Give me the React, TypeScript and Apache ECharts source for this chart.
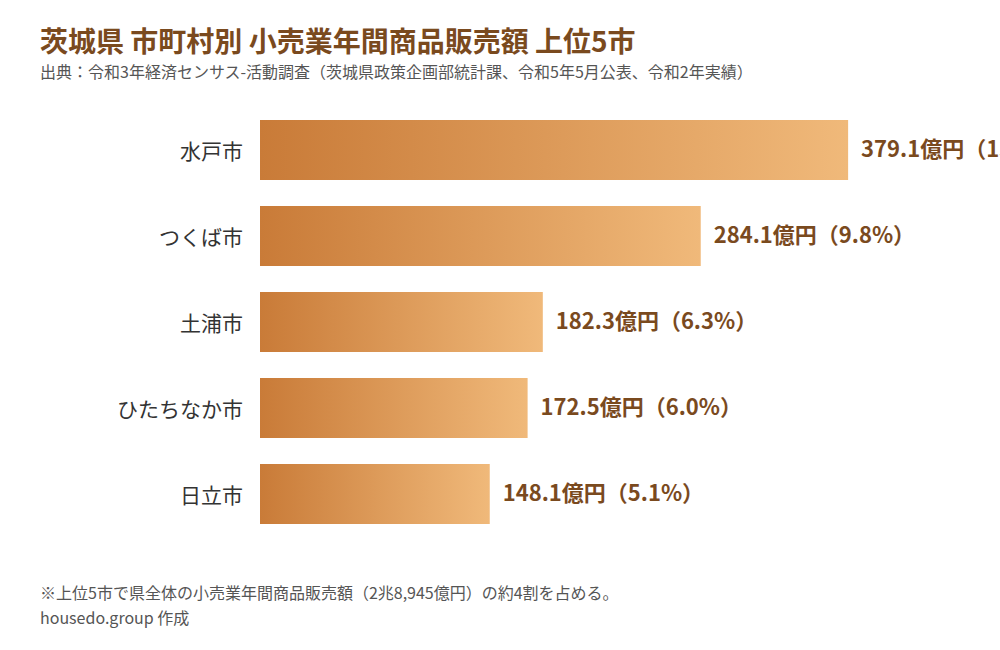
import { useEffect, useRef } from "react";
import * as echarts from "echarts";

const cities = ["水戸市", "つくば市", "土浦市", "ひたちなか市", "日立市"];
const sales = [379.1, 284.1, 182.3, 172.5, 148.1];
const shares = [13.1, 9.8, 6.3, 6.0, 5.1];

const titleText = "茨城県 市町村別 小売業年間商品販売額 上位5市";
const subText =
  "出典：令和3年経済センサス-活動調査（茨城県政策企画部統計課、令和5年5月公表、令和2年実績）";
const noteText = "※上位5市で県全体の小売業年間商品販売額（2兆8,945億円）の約4割を占める。";
const creditText = "housedo.group 作成";

const FONT = '"Noto Sans CJK JP", "Noto Sans", sans-serif';

const App = () => {
  const chartRef = useRef<HTMLDivElement>(null);

  useEffect(() => {
    if (!chartRef.current) return;
    document.body.style.margin = "0";

    const chart = echarts.init(chartRef.current, null, { renderer: "svg" });

    const option = {
      animation: false,
      backgroundColor: "#ffffff",
      textStyle: { fontFamily: FONT },
      title: [
        {
          text: titleText,
          left: 40,
          top: 26,
          padding: 0,
          textStyle: {
            fontFamily: FONT,
            fontSize: 28,
            fontWeight: "bold",
            color: "#7a4a1e",
          },
        },
        {
          text: subText,
          left: 40,
          top: 63,
          padding: 0,
          textStyle: {
            fontFamily: FONT,
            fontSize: 16,
            fontWeight: "normal",
            color: "#555555",
          },
        },
      ],
      graphic: [
        {
          type: "text",
          left: 40,
          top: 584,
          style: { text: noteText, font: `16px ${FONT}`, fill: "#555555" },
        },
        {
          type: "text",
          left: 40,
          top: 609,
          style: { text: creditText, font: `16px ${FONT}`, fill: "#555555" },
        },
      ],
      grid: {
        left: 260,
        right: 0,
        top: 107,
        height: 430,
        containLabel: false,
      },
      xAxis: {
        type: "value",
        min: 0,
        max: 477,
        show: false,
      },
      yAxis: {
        type: "category",
        data: cities,
        inverse: true,
        axisLine: { show: false },
        axisTick: { show: false },
        splitLine: { show: false },
        axisLabel: {
          fontFamily: FONT,
          fontSize: 21,
          color: "#333333",
          margin: 17,
          padding: [0, 0, 5, 0],
        },
      },
      series: [
        {
          type: "bar",
          data: sales,
          barWidth: 60,
          itemStyle: {
            color: new echarts.graphic.LinearGradient(0, 0, 1, 0, [
              { offset: 0, color: "#c97b38" },
              { offset: 1, color: "#f0b97a" },
            ]),
          },
          label: {
            show: true,
            position: "right",
            distance: 13,
            offset: [0, -3],
            fontFamily: FONT,
            fontSize: 22,
            fontWeight: "bold",
            color: "#7a4a1e",
            formatter: (p: { dataIndex: number; value: number }) =>
              `${p.value.toFixed(1)}億円（${shares[p.dataIndex].toFixed(1)}%）`,
          },
        },
      ],
    };

    chart.setOption(option);

    return () => {
      chart.dispose();
    };
  }, []);

  return <div ref={chartRef} style={{ width: "1000px", height: "650px" }} />;
};

export default App;
